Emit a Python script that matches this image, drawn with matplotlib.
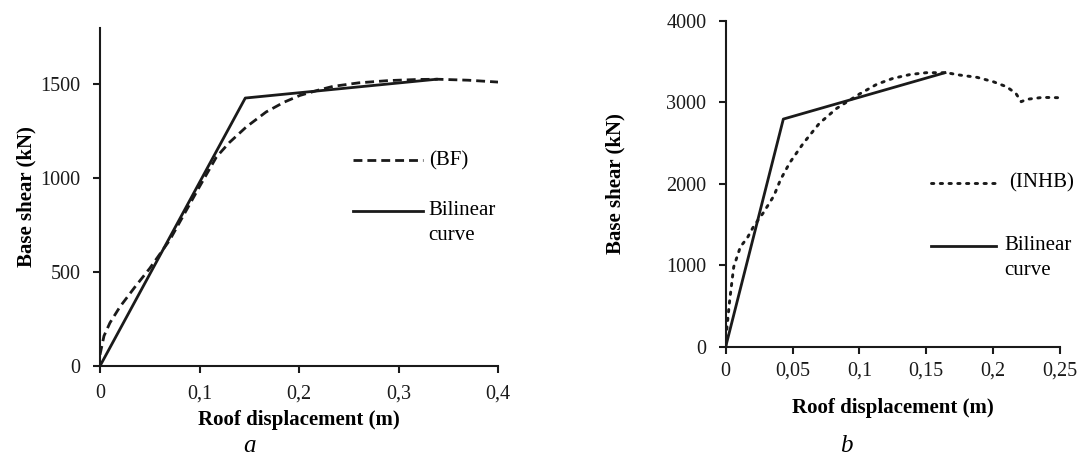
import numpy as np
import matplotlib
matplotlib.use("Agg")
import matplotlib.pyplot as plt

plt.rcParams['font.family'] = ['Liberation Serif', 'DejaVu Serif']

# (a) BF pushover curve and its bilinear idealisation
bf_x = [0, 0.004, 0.01, 0.02, 0.035, 0.05, 0.07, 0.09, 0.1, 0.117, 0.13, 0.147, 0.167,
        0.185, 0.201, 0.22, 0.234, 0.26, 0.29, 0.32, 0.34, 0.37, 0.4]
bf_y = [60, 160, 230, 315, 420, 520, 670, 860, 955, 1113, 1190, 1273, 1353,
        1405, 1441, 1470, 1489, 1508, 1520, 1526, 1527, 1522, 1512]
bil_a_x = [0, 0.146, 0.338]
bil_a_y = [0, 1427, 1527]

# (b) INHB pushover curve and its bilinear idealisation
inhb_x = [0, 0.001, 0.003, 0.006, 0.011, 0.016, 0.021, 0.028, 0.036, 0.041, 0.048, 0.058,
          0.07, 0.083, 0.1, 0.113, 0.125, 0.138, 0.15, 0.165, 0.175, 0.188, 0.2,
          0.21, 0.217, 0.221, 0.225, 0.237, 0.25]
inhb_y = [0, 245, 573, 980, 1227, 1330, 1480, 1640, 1850, 2050, 2260, 2495,
          2740, 2924, 3100, 3220, 3292, 3340, 3362, 3362, 3333, 3305, 3252,
          3190, 3108, 3006, 3035, 3059, 3055]
bil_b_x = [0, 0.0431, 0.164]
bil_b_y = [0, 2793, 3362]

fig = plt.figure(figsize=(10.91, 4.63), dpi=100)
W, H = 1091, 463
ink = '#1a1a1a'

def add_ax(x0, y0, x1, y1):
    # pixel box -> figure fraction
    return fig.add_axes([x0 / W, 1 - y1 / H, (x1 - x0) / W, (y1 - y0) / H])

def style(ax, xpad):
    for s in ['top', 'right']:
        ax.spines[s].set_visible(False)
    for s in ['left', 'bottom']:
        ax.spines[s].set_linewidth(1.5)
        ax.spines[s].set_color(ink)
    ax.tick_params(direction='out', length=5, width=1.5, labelsize=14.5, colors=ink)
    ax.tick_params(axis='y', pad=9)
    ax.tick_params(axis='x', pad=xpad)

fmt = lambda v: ('%g' % v).replace('.', ',')

# ---- a ----
ax1 = add_ax(100, 28, 498, 366)
ax1.plot(bf_x, bf_y, color=ink, lw=2.0, dashes=(3.2, 1.8))
ax1.plot(bil_a_x, bil_a_y, color=ink, lw=2.0)
ax1.set_xlim(0, 0.4)
ax1.set_ylim(0, 1800)
ax1.set_xticks([0, 0.1, 0.2, 0.3, 0.4])
ax1.set_xticklabels([fmt(v) for v in [0, 0.1, 0.2, 0.3, 0.4]])
ax1.set_yticks([0, 500, 1000, 1500])
style(ax1, 8)
ax1.set_xlabel('Roof displacement (m)', fontsize=15, fontweight='bold', labelpad=5)
ax1.set_ylabel('Base shear (kN)', fontsize=15, fontweight='bold', labelpad=3)

# legend (a)
ax1.plot([0.636, 0.812], [0.608, 0.608], transform=ax1.transAxes, color=ink,
         lw=2.0, dashes=(3.2, 1.8), clip_on=False)
ax1.text(0.826, 0.608, '(BF)', transform=ax1.transAxes, fontsize=15, va='center')
ax1.plot([0.636, 0.812], [0.46, 0.46], transform=ax1.transAxes, color=ink,
         lw=2.0, clip_on=False)
ax1.text(0.826, 0.46, 'Bilinear', transform=ax1.transAxes, fontsize=15, va='center')
ax1.text(0.826, 0.386, 'curve', transform=ax1.transAxes, fontsize=15, va='center')

fig.text(250 / W, 1 - 446 / H, 'a', fontsize=18, style='italic', ha='center', va='center')

# ---- b ----
ax2 = add_ax(725.7, 20.7, 1060, 346.7)
ax2.plot(inhb_x, inhb_y, color=ink, lw=2.1, linestyle=(0, (0.8, 2.2)),
         dash_capstyle='round')
ax2.plot(bil_b_x, bil_b_y, color=ink, lw=2.0)
ax2.set_xlim(0, 0.25)
ax2.set_ylim(0, 4000)
ax2.set_xticks([0, 0.05, 0.1, 0.15, 0.2, 0.25])
ax2.set_xticklabels([fmt(v) for v in [0, 0.05, 0.1, 0.15, 0.2, 0.25]])
ax2.set_yticks([0, 1000, 2000, 3000, 4000])
style(ax2, 6)
ax2.set_xlabel('Roof displacement (m)', fontsize=15, fontweight='bold', labelpad=12)
ax2.set_ylabel('Base shear (kN)', fontsize=15, fontweight='bold', labelpad=29)

# legend (b)
ax2.plot([0.614, 0.81], [0.503, 0.503], transform=ax2.transAxes, color=ink,
         lw=2.1, linestyle=(0, (0.8, 2.2)), dash_capstyle='round', clip_on=False)
ax2.text(0.848, 0.503, '(INHB)', transform=ax2.transAxes, fontsize=15, va='center')
ax2.plot([0.614, 0.81], [0.31, 0.31], transform=ax2.transAxes, color=ink,
         lw=2.0, clip_on=False)
ax2.text(0.834, 0.31, 'Bilinear', transform=ax2.transAxes, fontsize=15, va='center')
ax2.text(0.834, 0.233, 'curve', transform=ax2.transAxes, fontsize=15, va='center')

fig.text(846 / W, 1 - 446 / H, 'b', fontsize=18, style='italic', ha='center', va='center')

fig.savefig('out.png', dpi=100)
